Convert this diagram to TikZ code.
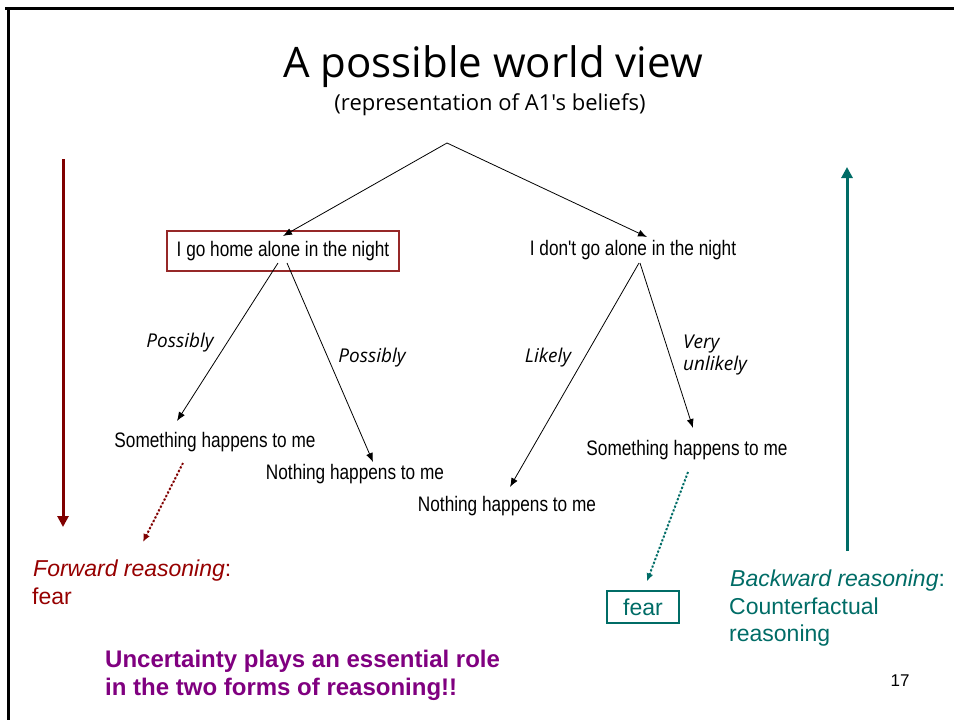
\documentclass[tikz,border=0pt]{standalone}
\usepackage{fontspec}
\setmainfont{Liberation Sans}
\newfontfamily\narrowfont[FakeStretch=0.82]{Liberation Sans}
\newfontfamily\comicfont{Open Sans}
\usetikzlibrary{arrows.meta,calc}
\definecolor{maroonA}{RGB}{128,0,0}
\definecolor{boxred}{RGB}{150,40,40}
\definecolor{fwdred}{RGB}{150,0,0}
\definecolor{tealA}{RGB}{0,108,102}
\definecolor{purp}{RGB}{128,0,128}
\begin{document}
\begin{tikzpicture}[x=1pt,y=-1pt,
  treearrow/.style={draw=black, line width=0.8pt, -{Latex[length=9pt,width=7pt]}},
  lbl/.style={font=\comicfont\itshape\fontsize{19}{22}\selectfont, inner sep=0pt},
  item/.style={font=\narrowfont\fontsize{21}{24}\selectfont, inner sep=1pt},
  side/.style={font=\fontsize{23}{28}\selectfont, inner sep=0pt, anchor=base west},
  bigarrow/.style={line width=3pt, -{Triangle[length=11pt,width=11pt]}},
  dotarrow/.style={dotted, line width=2pt, -{Latex[length=8pt,width=7pt]}},
  note/.style={font=\bfseries\fontsize{24}{28}\selectfont, text=purp, inner sep=0pt, anchor=base west}
]
\useasboundingbox (0,0) rectangle (954,720);
% slide frame
\draw[line width=3pt] (5,8) coordinate (ftl) -- (954,8) coordinate (ftr);
\draw[line width=3pt] (8,8) coordinate (fl) -- (8,720) coordinate (fb);

% title
\node[font=\comicfont\fontsize{42}{50}\selectfont, inner sep=0pt] (title) at (493,67) {A possible world view};
\node[font=\comicfont\fontsize{22}{26}\selectfont, inner sep=0pt] (subtitle) at (490,105) {(representation of A1's beliefs)};

% tree
\coordinate (apex) at (447,143);
\node[item, draw=boxred, line width=1.3pt, minimum width=232pt, minimum height=40pt] (lbox) at (283,251) {I go home alone in the night};
\node[item] (rnode) at (633,250) {I don't go alone in the night};
\node[item] (sh1) at (215,442) {Something happens to me};
\node[item] (nh1) at (355,474) {Nothing happens to me};
\node[item] (nh2) at (507,506) {Nothing happens to me};
\node[item] (sh2) at (687,450) {Something happens to me};

\node[lbl] (p1) at (180,343) {Possibly};
\node[lbl] (p2) at (372,358) {Possibly};
\node[lbl] (lk) at (548,358) {Likely};
\node[lbl, align=left, anchor=west] (vu) at (683,355) {Very\\unlikely};

\draw[treearrow] (apex) -- ($(lbox.center)+(0,-15)$);
\draw[treearrow] (apex) -- ($(rnode.center)+(14,-13)$);
\draw[treearrow] ($(lbox.center)+(-5,12)$) -- ($(sh1.center)+(-38,-21)$);
\draw[treearrow] ($(lbox.center)+(4,12)$) -- ($(nh1.center)+(18,-12)$);
\draw[treearrow] ($(rnode.center)+(6,13)$) -- ($(nh2.center)+(3,-19)$);
\draw[treearrow] ($(rnode.center)+(7,13)$) -- ($(sh2.center)+(6,-22)$);

% fear box
\node[font=\fontsize{23}{28}\selectfont, text=tealA, draw=tealA, line width=1.3pt, minimum width=72pt, minimum height=32pt, inner sep=0pt] (fearbox) at (643,607) {fear};

% dotted arrows
\coordinate (fwdtip) at (143,542);
\draw[dotarrow, draw=maroonA, fill=maroonA] ($(sh1.center)+(-32,21)$) -- (fwdtip);
\draw[dotarrow, draw=tealA, fill=tealA] ($(sh2.center)+(1,22)$) -- ($(fearbox.north)+(4,-9)$);

% big reasoning arrows
\coordinate (rtop) at (63,159);
\coordinate (rbot) at (63,527);
\draw[bigarrow, draw=maroonA, fill=maroonA] (rtop) -- (rbot);
\coordinate (tbot) at (847,551);
\coordinate (ttop) at (847,167);
\draw[bigarrow, draw=tealA, fill=tealA] (tbot) -- (ttop);

% side texts
\node[side, text=fwdred] (fwd1) at (33,576) {\itshape Forward reasoning\upshape:};
\node[side, text=fwdred] (fwd2) at (32,604) {fear};
\node[side, text=tealA] (bwd1) at (730,586) {\itshape Backward reasoning\upshape:};
\node[side, text=tealA] (bwd2) at (729,614) {Counterfactual};
\node[side, text=tealA] (bwd3) at (729,641) {reasoning};

% bottom note
\node[note] (u1) at (105,667) {Uncertainty plays an essential role};
\node[note] (u2) at (105,695) {in the two forms of reasoning!!};

\node[font=\fontsize{17}{20}\selectfont, inner sep=0pt] (pg) at (900,681) {17};
\end{tikzpicture}
\end{document}
